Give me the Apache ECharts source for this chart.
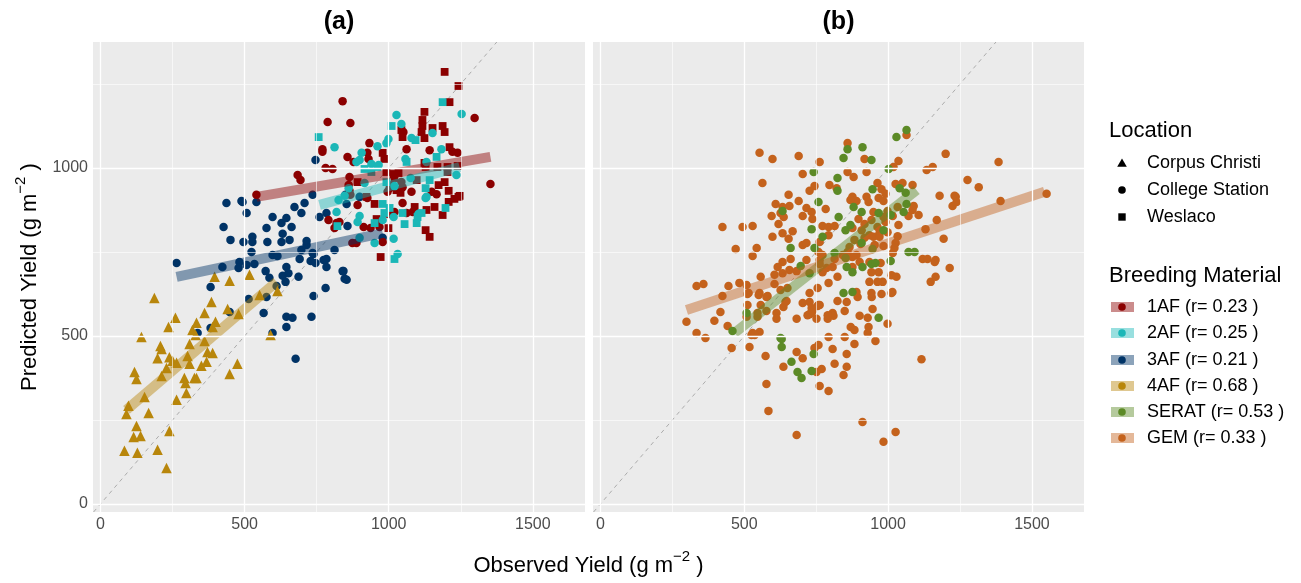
<!DOCTYPE html>
<html><head><meta charset="utf-8">
<script src="https://cdn.jsdelivr.net/npm/echarts@6/dist/echarts.min.js"></script>
<style>html,body{margin:0;padding:0;background:#fff}#c{width:1301px;height:583px}</style>
</head><body><div id="c"></div>
<script>
const FONT = "'Liberation Sans', Arial, Helvetica, sans-serif";
const XMIN = -26, XMAX = 1681, YMIN = -24, YMAX = 1375;
const xTicks = [0, 500, 1000, 1500];
const xMinor = [250, 750, 1250];
const yTicks = [0, 500, 1000];
const yMinor = [250, 750, 1250];
const panelTitles = ['(a)', '(b)'];
const groups = ['1AF', '2AF', '3AF', '4AF', 'SERAT', 'GEM'];
const rValues = ['0.23', '0.25', '0.21', '0.68', '0.53', '0.33'];
const groupColors = ['#8B0000', '#1BB7B7', '#003366', '#B8860B', '#5C8A26', '#C4621C'];
const locations = ['Corpus Christi', 'College Station', 'Weslaco'];

// ---- Panel (a) ----
const a4AF_CorpusChristi = [[396,676],[448,664],[517,682],[187,613],[385,601],[260,554],[236,527],[361,568],[441,580],[479,565],[333,539],[399,542],[389,527],[319,518],[330,503],[142,497],[208,470],[212,461],[309,476],[361,485],[371,452],[389,449],[198,434],[239,437],[250,426],[264,420],[302,440],[309,417],[350,411],[368,423],[475,417],[229,405],[212,381],[118,393],[125,372],[291,375],[295,360],[326,375],[333,375],[448,387],[298,330],[264,310],[153,318],[97,292],[90,268],[167,271],[125,232],[115,199],[139,202],[239,217],[83,158],[128,152],[198,161],[229,107],[552,622],[614,634],[590,503]];
const a3AF_CollegeStation = [[437,896],[493,899],[541,899],[507,866],[427,824],[451,786],[496,780],[527,795],[527,780],[579,780],[576,821],[597,854],[628,836],[645,851],[663,824],[632,804],[628,780],[656,786],[673,884],[697,866],[708,896],[736,920],[524,750],[264,717],[423,705],[482,720],[479,702],[507,711],[534,714],[573,693],[586,673],[597,741],[614,738],[632,679],[642,661],[652,687],[645,705],[687,676],[691,729],[697,756],[715,771],[715,783],[739,744],[729,723],[746,717],[774,726],[784,705],[812,756],[840,693],[847,670],[781,643],[739,619],[576,616],[514,610],[382,646],[448,571],[566,568],[645,557],[666,554],[732,557],[645,527],[382,524],[337,509],[597,509],[677,432],[611,649],[746,1024],[760,854],[784,866],[854,893],[850,920],[857,827],[736,747],[784,729],[843,693],[854,667],[899,914],[979,792],[489,902]];
const a1AF_CollegeStation = [[840,1199],[788,1137],[867,1134],[770,1056],[770,1048],[857,1033],[878,1018],[933,1074],[926,1045],[930,1027],[781,1000],[805,997],[684,979],[694,964],[541,920],[864,973],[1062,1056],[1051,1107],[1142,1053],[1221,1048],[1239,1045],[1298,1149],[1353,952],[1149,929],[1079,929],[1048,943],[1003,940],[861,949],[867,920],[892,890],[926,911],[791,845],[829,839],[812,821],[913,824],[937,821],[968,824],[979,780],[874,777],[888,777],[1020,869],[1062,866],[1083,869],[1166,922],[1044,958],[864,932],[819,836],[996,929],[999,863],[1048,896]];
const a1AF_Weslaco = [[1194,1286],[1242,1244],[1211,1196],[1124,1167],[1117,1143],[1117,1125],[1114,1107],[1152,1119],[1187,1125],[1194,1107],[1044,1113],[1048,1092],[1124,1089],[1211,1062],[979,1045],[985,1027],[1124,1015],[1169,1003],[1204,1003],[992,988],[1017,982],[1010,949],[1027,934],[1041,926],[1097,964],[1194,958],[1173,949],[1208,932],[1246,917],[1228,908],[1208,899],[923,914],[951,893],[892,958],[1090,884],[1159,884],[1131,875],[1187,860],[958,848],[999,821],[1128,815],[1142,795],[972,735],[1242,914],[1204,988],[1020,970],[1034,985],[1128,1003],[1239,1006]];
const a2AF_CollegeStation = [[1027,1158],[1044,1131],[1253,1161],[1152,1104],[1079,1089],[999,1086],[992,1074],[961,1065],[906,1045],[812,1062],[1183,1056],[888,1018],[899,1024],[940,1012],[1058,1027],[1131,1018],[1235,979],[1076,970],[1020,946],[916,955],[861,940],[847,917],[826,905],[819,869],[899,857],[892,839],[979,845],[1017,854],[1128,911],[1103,863],[1017,789],[951,777],[899,792],[1031,744],[965,1009],[1131,914]];
const a2AF_Weslaco = [[757,1092],[1187,1196],[1010,1125],[1093,1083],[916,997],[961,1003],[1062,1018],[1142,964],[1128,940],[992,958],[979,893],[1003,881],[985,866],[1048,866],[1100,854],[1114,866],[1197,881],[1055,833],[951,836],[822,827],[1020,729],[1166,1033],[940,988],[1097,836]];

// ---- Panel (b) ----
const bSERAT_CollegeStation = [[741,988],[758,899],[734,818],[661,762],[744,762],[772,795],[696,708],[633,872],[727,687],[508,568],[459,515],[626,494],[824,970],[824,932],[828,854],[814,747],[630,491],[630,467],[664,423],[685,393],[699,375],[741,446],[734,396],[967,554],[845,628],[876,631],[911,1062],[942,1024],[845,1030],[1029,1092],[1002,997],[946,937],[1061,926],[1064,893],[1054,869],[1009,860],[984,815],[880,884],[852,815],[946,759],[942,714],[1009,723],[1071,750],[1092,750],[911,705],[1064,1113],[859,1056],[1040,940],[967,866],[908,869],[869,830],[908,777],[852,732],[956,717],[876,690],[856,705]];
const bGEM_CollegeStation = [[553,1045],[598,1027],[689,1036],[762,1018],[703,982],[563,955],[727,932],[744,946],[796,949],[821,940],[654,920],[689,902],[609,893],[633,884],[657,887],[595,857],[626,866],[637,854],[716,881],[734,869],[783,878],[703,857],[737,848],[619,833],[772,827],[793,824],[814,827],[668,812],[633,806],[793,800],[598,795],[654,789],[424,824],[494,824],[529,827],[762,780],[703,771],[716,777],[543,762],[470,759],[529,738],[758,750],[772,741],[762,726],[661,729],[633,720],[716,726],[814,729],[616,705],[633,687],[605,682],[657,696],[682,693],[762,714],[772,690],[786,702],[807,705],[824,676],[557,676],[483,658],[508,652],[605,655],[334,649],[358,655],[445,649],[515,628],[553,628],[581,619],[626,637],[650,643],[727,628],[755,643],[793,658],[424,619],[727,601],[762,592],[703,598],[511,592],[557,592],[643,601],[636,586],[417,571],[577,574],[612,568],[546,557],[508,557],[682,551],[734,568],[751,551],[807,568],[790,551],[299,542],[396,545],[442,530],[334,509],[365,494],[529,509],[553,512],[793,497],
[456,464],[518,467],[525,503],[536,503],[574,440],[577,357],[584,277],[636,408],[682,452],[703,434],[682,205],[758,473],[807,461],[769,402],[751,393],[762,351],[793,336],[814,417],[856,408],[856,446],[845,384],[849,497],[870,527],[883,518],[883,476],[956,485],[911,244],[984,185],[1026,214],[1116,431],[929,509],[998,536],[946,580],[901,560],[929,554],[849,574],[810,560],[790,562],[755,589],[727,565],[612,551],
[932,527],[744,464],[894,616],[943,616],[977,625],[1012,628],[824,604],[856,601],[734,583],[720,562],[758,592],[737,574],[647,604],[577,616],[550,622],[546,568],[511,625],
[859,1074],[918,1027],[925,988],[880,973],[859,988],[1064,1098],[1036,1021],[1019,1003],[1200,1042],[1134,994],[1155,1003],[963,955],[1026,952],[1050,955],[1085,949],[977,937],[991,923],[876,914],[890,902],[925,914],[967,911],[984,902],[1179,917],[1235,914],[1224,887],[1089,887],[1085,875],[1071,857],[1106,860],[1033,884],[1016,857],[998,872],[949,869],[963,824],[991,839],[1036,830],[998,809],[970,806],[918,833],[876,821],[935,800],[1033,797],[1130,818],[1169,845],[1193,789],[1026,777],[1022,762],[984,768],[953,771],[904,774],[866,765],[890,741],[935,720],[967,690],[935,661],[981,661],[1012,681],[1015,631],[1120,729],[1165,726],[1148,661],[1165,676],[1214,702],
[869,905],[932,899],[984,854],[942,845],[897,848],[908,815],[949,795],[918,792],[970,795],[1016,747],[883,786],[901,720],[876,735],[859,750],[842,741],[876,705],[974,717],[942,690],[963,661],[1029,676],[942,628],[890,631],[1137,729],[1162,720],
[1384,1018],[1276,964],[1315,943],[1231,917],[1238,899],[1391,902],[1551,923]];

// fitted regression lines (end points)
const fit1AF = [[541,914],[1353,1033]];
const fit2AF = [[760,890],[1246,1003]];
const fit3AF = [[264,676],[979,806]];
const fit4AF = [[90,280],[611,661]];
const fitSERAT = [[466,509],[1099,934]];
const fitGEM = [[299,577],[1544,929]];

function hexToRgba(hex, a) {
  const n = parseInt(hex.slice(1), 16);
  return `rgba(${(n >> 16) & 255},${(n >> 8) & 255},${n & 255},${a})`;
}
const LINE_ALPHA = 0.45;
const symOf = { 'Corpus Christi': 'triangle', 'College Station': 'circle', 'Weslaco': 'rect' };
const sizeOf = { 'Corpus Christi': 10.5, 'College Station': 8.5, 'Weslaco': 7.8 };

function pts(panel, data, g, loc) {
  return { type: 'scatter', xAxisIndex: panel, yAxisIndex: panel, data: data,
    symbol: symOf[loc], symbolSize: sizeOf[loc], z: 3, silent: true, animation: false,
    itemStyle: { color: groupColors[groups.indexOf(g)], opacity: 1 } };
}
function fitLine(panel, data, g) {
  return { type: 'line', xAxisIndex: panel, yAxisIndex: panel, data: data, symbol: 'none',
    z: 4, silent: true, animation: false, clip: true,
    lineStyle: { width: 10, color: hexToRgba(groupColors[groups.indexOf(g)], LINE_ALPHA), cap: 'butt' } };
}
function gridLines(panel) {
  const d = [];
  xMinor.forEach(v => d.push({ xAxis: v, lineStyle: { color: '#FFFFFF', width: 0.6, type: 'solid' } }));
  yMinor.forEach(v => d.push({ yAxis: v, lineStyle: { color: '#FFFFFF', width: 0.6, type: 'solid' } }));
  xTicks.forEach(v => d.push({ xAxis: v, lineStyle: { color: '#FFFFFF', width: 1.3, type: 'solid' } }));
  yTicks.forEach(v => d.push({ yAxis: v, lineStyle: { color: '#FFFFFF', width: 1.3, type: 'solid' } }));
  return { type: 'scatter', xAxisIndex: panel, yAxisIndex: panel, data: [], z: 1, silent: true,
    markLine: { silent: true, symbol: ['none', 'none'], label: { show: false }, animation: false,
      emphasis: { disabled: true }, data: d } };
}
function diag(panel) {
  const lo = Math.max(XMIN, YMIN), hi = Math.min(XMAX, YMAX);
  return { type: 'line', xAxisIndex: panel, yAxisIndex: panel, data: [[lo, lo], [hi, hi]],
    symbol: 'none', z: 2, silent: true, animation: false,
    lineStyle: { color: '#ABABAB', width: 1, type: [4, 4] } };
}

const grids = [
  { left: 93, top: 42, width: 492, height: 470, show: true, backgroundColor: '#EBEBEB', borderWidth: 0 },
  { left: 593, top: 42, width: 491, height: 470, show: true, backgroundColor: '#EBEBEB', borderWidth: 0 }
];
const plainNum = v => String(v);
const xAxes = [0, 1].map(i => ({
  type: 'value', gridIndex: i, min: XMIN, max: XMAX,
  axisLine: { show: false }, splitLine: { show: false },
  axisTick: { show: true, customValues: xTicks, length: 4, lineStyle: { color: '#333333', width: 1 } },
  axisLabel: { customValues: xTicks, formatter: plainNum, color: '#4D4D4D', fontSize: 16, fontFamily: FONT, margin: 5 }
}));
const yAxes = [0, 1].map(i => ({
  type: 'value', gridIndex: i, min: YMIN, max: YMAX,
  axisLine: { show: false }, splitLine: { show: false },
  axisTick: { show: i === 0, customValues: yTicks, length: 4, lineStyle: { color: '#333333', width: 1 } },
  axisLabel: { show: i === 0, customValues: yTicks, formatter: plainNum, color: '#4D4D4D', fontSize: 16, fontFamily: FONT, margin: 5 }
}));

const series = [
  gridLines(0), gridLines(1), diag(0), diag(1),
  pts(0, a3AF_CollegeStation, '3AF', 'College Station'),
  pts(0, a4AF_CorpusChristi, '4AF', 'Corpus Christi'),
  pts(0, a1AF_CollegeStation, '1AF', 'College Station'),
  pts(0, a1AF_Weslaco, '1AF', 'Weslaco'),
  pts(0, a2AF_CollegeStation, '2AF', 'College Station'),
  pts(0, a2AF_Weslaco, '2AF', 'Weslaco'),
  pts(1, bGEM_CollegeStation, 'GEM', 'College Station'),
  pts(1, bSERAT_CollegeStation, 'SERAT', 'College Station'),
  fitLine(0, fit1AF, '1AF'), fitLine(0, fit2AF, '2AF'), fitLine(0, fit3AF, '3AF'), fitLine(0, fit4AF, '4AF'),
  fitLine(1, fitSERAT, 'SERAT'), fitLine(1, fitGEM, 'GEM')
];

// ---- titles & legend (graphic) ----
const graphic = [];
panelTitles.forEach((t, i) => {
  const g = grids[i];
  graphic.push({ type: 'text', x: g.left + g.width / 2, y: 22, silent: true,
    style: { text: t, fontSize: 25, fontWeight: 'bold', fontFamily: FONT, fill: '#000', align: 'center', verticalAlign: 'middle' } });
});
const richTitle = {
  n: { fontSize: 22, fontFamily: FONT, fill: '#000', lineHeight: 34, verticalAlign: 'middle' },
  s: { fontSize: 15, fontFamily: FONT, fill: '#000', lineHeight: 16, verticalAlign: 'top' }
};
graphic.push({ type: 'text', x: (grids[0].left + grids[1].left + grids[1].width) / 2, y: 566, silent: true,
  style: { text: '{n|Observed Yield (g m}{s|−2}{n| )}', rich: richTitle, align: 'center', verticalAlign: 'middle' } });
graphic.push({ type: 'text', x: 30, y: grids[0].top + grids[0].height / 2, rotation: Math.PI / 2, silent: true,
  style: { text: '{n|Predicted Yield (g m}{s|−2}{n| )}', rich: richTitle, align: 'center', verticalAlign: 'middle' } });

const LX = 1109, KX = 1122, TX = 1147;
graphic.push({ type: 'text', x: LX, y: 131, silent: true,
  style: { text: 'Location', fontSize: 22, fontFamily: FONT, fill: '#000', verticalAlign: 'middle' } });
const locY = [163, 190, 217];
locations.forEach((loc, i) => {
  const y = locY[i];
  if (symOf[loc] === 'triangle') graphic.push({ type: 'polygon', silent: true, shape: { points: [[KX, y - 4.5], [KX - 4.8, y + 3.8], [KX + 4.8, y + 3.8]] }, style: { fill: '#000' } });
  else if (symOf[loc] === 'circle') graphic.push({ type: 'circle', silent: true, shape: { cx: KX, cy: y, r: 3.8 }, style: { fill: '#000' } });
  else graphic.push({ type: 'rect', silent: true, shape: { x: KX - 3.7, y: y - 3.7, width: 7.4, height: 7.4 }, style: { fill: '#000' } });
  graphic.push({ type: 'text', x: TX, y: y, silent: true,
    style: { text: loc, fontSize: 18, fontFamily: FONT, fill: '#000', verticalAlign: 'middle' } });
});
graphic.push({ type: 'text', x: LX, y: 276, silent: true,
  style: { text: 'Breeding Material', fontSize: 22, fontFamily: FONT, fill: '#000', verticalAlign: 'middle' } });
const bmY = [307, 333, 360, 386, 412, 438];
groups.forEach((g, i) => {
  const y = bmY[i];
  graphic.push({ type: 'rect', silent: true, shape: { x: 1111, y: y - 5, width: 23, height: 10 }, style: { fill: hexToRgba(groupColors[i], LINE_ALPHA) } });
  graphic.push({ type: 'circle', silent: true, shape: { cx: KX, cy: y, r: 3.8 }, style: { fill: groupColors[i] } });
  graphic.push({ type: 'text', x: TX, y: y, silent: true,
    style: { text: `${g} (r= ${rValues[i]} )`, fontSize: 18, fontFamily: FONT, fill: '#000', verticalAlign: 'middle' } });
});

const chart = echarts.init(document.getElementById('c'), null, { renderer: 'canvas' });
chart.setOption({
  backgroundColor: '#FFFFFF', animation: false,
  grid: grids, xAxis: xAxes, yAxis: yAxes, series: series, graphic: graphic
});
</script></body></html>
